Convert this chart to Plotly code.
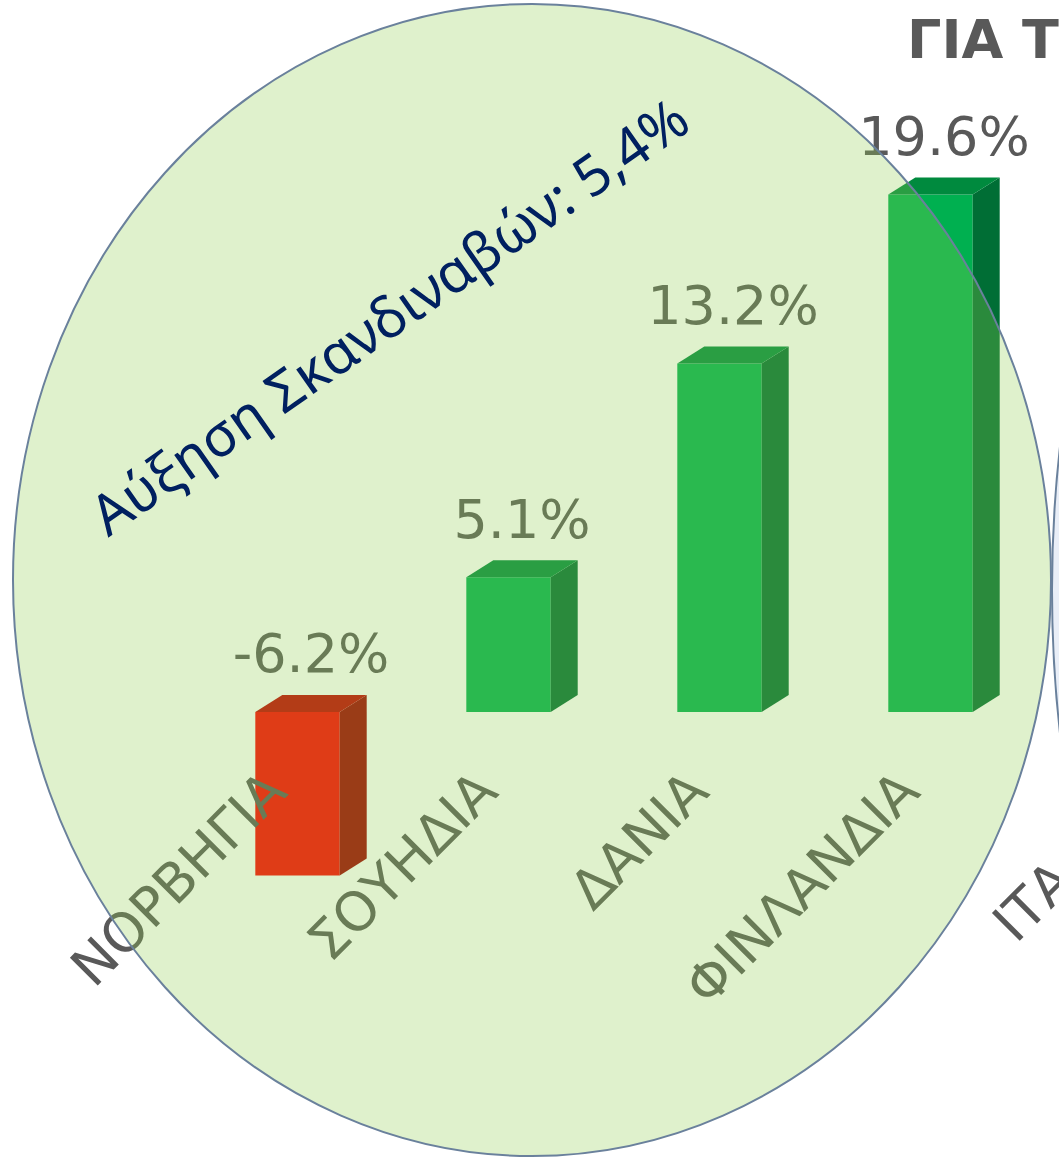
import plotly.graph_objects as go

# ---- data ----
countries = ["ΝΟΡΒΗΓΙΑ", "ΣΟΥΗΔΙΑ", "ΔΑΝΙΑ", "ΦΙΝΛΑΝΔΙΑ"]
growth = [-6.2, 5.1, 13.2, 19.6]
value_labels = ["-6.2%", "5.1%", "13.2%", "19.6%"]
next_country = "ΙΤΑΛΙΑ"
note_text = "Αύξηση Σκανδιναβών: 5,4%"
title_text = "ΓΙΑ ΤΑ"

W, H = 1059, 1157
idx = list(range(len(countries)))

# ---- style ----
bar_w = 0.40
depth_x = 0.128
depth_y = 0.644
xr = [-1.41, 3.609]
yr = [-16.86, 26.97]
label_dx = -0.13  # tick label shift (category units)

pos_front, pos_side, pos_top = "#00B050", "#006E35", "#008A3E"
neg_front, neg_side, neg_top = "#FF0000", "#9E0000", "#C10000"

fig = go.Figure()

front_colors = [neg_front if v < 0 else pos_front for v in growth]
fig.add_trace(go.Bar(x=idx, y=growth, width=bar_w, marker=dict(color=front_colors, line=dict(width=0)),
                     hoverinfo="skip", showlegend=False))

for i, v in zip(idx, growth):
    top = max(v, 0)
    bot = min(v, 0)
    side_c = neg_side if v < 0 else pos_side
    top_c = neg_top if v < 0 else pos_top
    xl, xrr = i - bar_w / 2, i + bar_w / 2
    fig.add_trace(go.Scatter(
        x=[xrr, xrr + depth_x, xrr + depth_x, xrr, xrr],
        y=[bot, bot + depth_y, top + depth_y, top, bot],
        fill="toself", fillcolor=side_c, mode="lines", line=dict(width=0, color=side_c),
        hoverinfo="skip", showlegend=False))
    fig.add_trace(go.Scatter(
        x=[xl, xrr, xrr + depth_x, xl + depth_x, xl],
        y=[top, top, top + depth_y, top + depth_y, top],
        fill="toself", fillcolor=top_c, mode="lines", line=dict(width=0, color=top_c),
        hoverinfo="skip", showlegend=False))

label_gap = 0.35
fig.add_trace(go.Scatter(
    x=[i + depth_x / 2 for i in idx],
    y=[max(v, 0) + depth_y + label_gap for v in growth],
    text=value_labels, mode="text", textposition="top center",
    textfont=dict(family="DejaVu Sans", size=54, color="#595959"),
    hoverinfo="skip", showlegend=False))

zero_frac = (0 - yr[0]) / (yr[1] - yr[0])

fig.update_layout(
    width=W, height=H, margin=dict(l=0, r=0, t=0, b=0),
    paper_bgcolor="white", plot_bgcolor="rgba(0,0,0,0)",
    xaxis=dict(range=xr, tickmode="array", tickvals=[i + label_dx for i in idx], ticktext=countries,
               tickangle=-45, tickfont=dict(family="DejaVu Sans", size=54, color="#595959"),
               showgrid=False, zeroline=False, showline=False, ticks="",
               anchor="free", position=zero_frac, ticklabelstandoff=35),
    yaxis=dict(range=yr, visible=False, showgrid=False, zeroline=False, domain=[0, 1]),
)

def px_to_paper(xp, yp):
    return xp / W, 1 - yp / H

# neighbouring ellipse, partially visible at right edge
ax0, ay0 = px_to_paper(1052, 590 - 624)
ax1, ay1 = px_to_paper(1052 + 600, 590 + 624)
fig.add_shape(type="circle", xref="paper", yref="paper", x0=ax0, x1=ax1, y0=ay1, y1=ay0,
              fillcolor="#E9EEF7", line=dict(color="#6A819C", width=2), layer="above")

# main highlight ellipse
ex0, ey0 = px_to_paper(13, 4)
ex1, ey1 = px_to_paper(1051, 1156)
fig.add_shape(type="circle", xref="paper", yref="paper", x0=ex0, x1=ex1, y0=ey1, y1=ey0,
              fillcolor="rgba(146,208,80,0.29)", line=dict(color="#6A819C", width=2), layer="above")

# next category label (clipped at right edge)
cat_px = (len(countries) + label_dx - xr[0]) / (xr[1] - xr[0]) * W
zero_px = (1 - zero_frac) * H
ix, iy = px_to_paper(cat_px + 38, zero_px + 70)
fig.add_annotation(xref="paper", yref="paper", x=ix, y=iy,
                   text=next_country, showarrow=False, textangle=-45,
                   xanchor="right", yanchor="top",
                   font=dict(family="DejaVu Sans", size=54, color="#595959"))

# note
nx, ny = px_to_paper(388, 315)
fig.add_annotation(xref="paper", yref="paper", x=nx, y=ny, text=note_text, showarrow=False,
                   textangle=-35, xanchor="center", yanchor="middle",
                   font=dict(family="Noto Sans", size=56, color="#002060"))

# title fragment
tx, ty = px_to_paper(905, 6)
fig.add_annotation(xref="paper", yref="paper", x=tx, y=ty, text="<b>" + title_text + "</b>",
                   showarrow=False, xanchor="left", yanchor="top",
                   font=dict(family="DejaVu Sans", size=54, color="#595959"))

fig.write_html("out.html", config={"displayModeBar": False},
               post_script="document.body.style.margin='0px';")
